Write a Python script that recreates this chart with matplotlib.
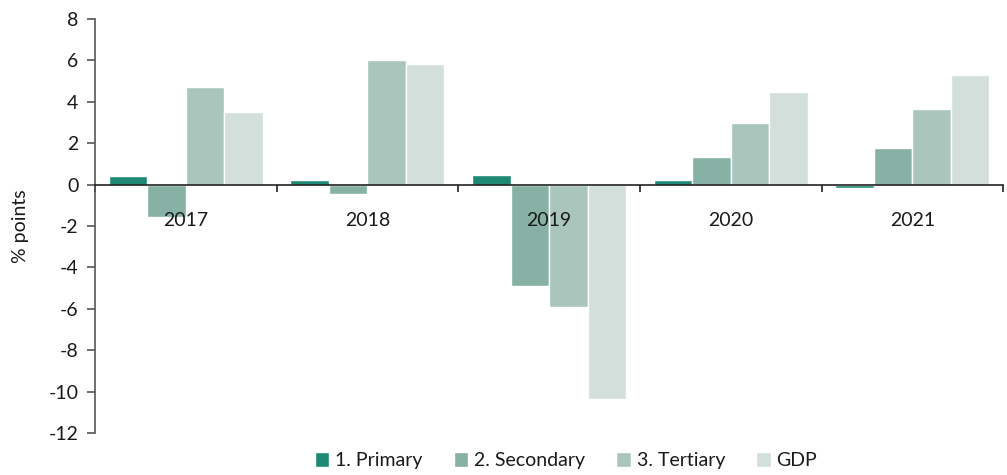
import numpy as np
import matplotlib.pyplot as plt
from matplotlib.ticker import NullFormatter

plt.rcParams["font.family"] = ["Lato", "DejaVu Sans"]

# --- Data ---
YEARS = ["2017", "2018", "2019", "2020", "2021"]
SERIES = ["1. Primary", "2. Secondary", "3. Tertiary", "GDP"]
primary = [0.4, 0.2, 0.47, 0.2, -0.15]
secondary = [-1.55, -0.45, -4.88, 1.33, 1.77]
tertiary = [4.73, 6.02, -5.9, 2.97, 3.65]
gdp = [3.52, 5.83, -10.35, 4.47, 5.29]

COLORS = ["#1e8a74", "#86b1a4", "#aac6bc", "#d2dfdb"]
TEXT = "#1a1a1a"
AXIS = "#555555"

# --- Plot ---
fig = plt.figure(figsize=(10.07, 4.75), dpi=100, facecolor="white")
ax = fig.add_axes([0.0943, 0.0884, 0.902, 0.8716])

x = np.arange(len(YEARS))
width = 0.212
for i, (name, vals) in enumerate(zip(SERIES, [primary, secondary, tertiary, gdp])):
    ax.bar(x + (i - 1.5) * width, vals, width=width, color=COLORS[i],
           edgecolor="white", linewidth=1.0, label=name, zorder=2)

ax.set_xlim(-0.5, len(YEARS) - 0.5)
ax.set_ylim(-12, 8)
ax.set_yticks(range(-12, 9, 2))
ax.set_yticklabels([str(v) for v in range(-12, 9, 2)])

# x axis sits on zero, ticks at category boundaries
ax.spines["bottom"].set_position(("data", 0))
ax.spines["bottom"].set_color("#222222")
ax.spines["bottom"].set_linewidth(1.2)
ax.spines["bottom"].set_zorder(3)
ax.spines["left"].set_color(AXIS)
ax.spines["left"].set_linewidth(1.2)
ax.spines["top"].set_visible(False)
ax.spines["right"].set_visible(False)

ax.set_xticks(np.arange(-0.5, len(YEARS), 1.0))
ax.xaxis.set_major_formatter(NullFormatter())
ax.tick_params(axis="x", length=5, direction="out", color="#222222", width=1.2)

# year labels drawn on top of the bars
for xi, yr in zip(x, YEARS):
    ax.annotate(yr, xy=(xi, 0), xytext=(0, -26), textcoords="offset points",
                ha="center", va="center", fontsize=14, color=TEXT, zorder=5)

ax.tick_params(axis="y", length=6, direction="out", color=AXIS, width=1.2,
               labelsize=14, labelcolor=TEXT, pad=6)
ax.set_ylabel("% points", fontsize=14, color=TEXT, labelpad=14)

fig.legend(loc="lower center", bbox_to_anchor=(0.562, -0.025), ncol=4,
           frameon=False, fontsize=14, handlelength=0.75, handleheight=0.75,
           handletextpad=0.3, columnspacing=1.6, labelcolor=TEXT)

fig.savefig("out.png", dpi=100, facecolor="white")
